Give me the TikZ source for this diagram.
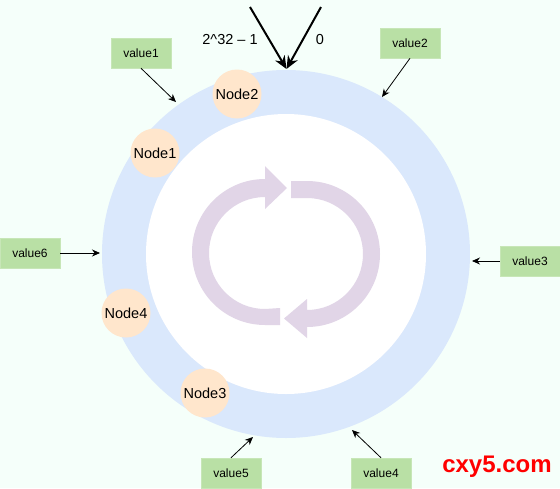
\documentclass[tikz,border=0pt]{standalone}
\usepackage{fontspec}
\setmainfont{Liberation Sans}
\usetikzlibrary{arrows.meta}
\definecolor{bg}{RGB}{245,255,250}
\definecolor{ringc}{HTML}{DAE8FC}
\definecolor{nodec}{HTML}{FFE6CC}
\definecolor{valc}{HTML}{B9E0A5}
\definecolor{cyc}{HTML}{E1D5E7}
\definecolor{wm}{RGB}{255,0,0}
\begin{document}
\begin{tikzpicture}[x=1pt,y=-1pt,
  hashnode/.style={circle,fill=nodec,minimum size=49pt,inner sep=0pt,font=\fontsize{14.5}{17}\selectfont},
  valbox/.style={rectangle,fill=valc,draw=valc!80!white,line width=0.5pt,minimum width=60pt,minimum height=30pt,inner sep=0pt,font=\fontsize{12}{14}\selectfont},
  thinarr/.style={-{Stealth[length=8pt,width=7pt]},line width=0.8pt},
  bigarr/.style={-{Stealth[length=13pt,width=11pt]},line width=2pt},
  lbl/.style={inner sep=0pt,font=\fontsize{14.5}{17}\selectfont}]
\fill[bg] (0,0) rectangle (560,488);
\useasboundingbox (0,0) rectangle (560,488);
% ring
\fill[ringc] (286,254) circle[radius=184pt];
\fill[white] (286,254) circle[radius=140pt];
% cycle arrows
\fill[cyc] (280,325) -- (265,325) arc[start angle=270,end angle=90,radius=73pt]
  -- (265,166) -- (287,188) -- (265,209) -- (265,197)
  arc[start angle=90,end angle=270,radius=56pt] -- (280,308) -- cycle;
\fill[cyc] (291,181) -- (307,181) arc[start angle=90,end angle=-90,radius=73pt]
  -- (307,338) -- (284,318.5) -- (307,299) -- (307,310)
  arc[start angle=-90,end angle=90,radius=56pt] -- (291,198) -- cycle;
% hash nodes
\node[hashnode] (n2) at (237,94) {Node2};
\node[hashnode] (n1) at (155,153) {Node1};
\node[hashnode] (n4) at (126,313) {Node4};
\node[hashnode] (n3) at (205,393) {Node3};
% value boxes
\node[valbox] (v1) at (141,53) {value1};
\node[valbox] (v2) at (410,43) {value2};
\node[valbox] (v3) at (530,261) {value3};
\node[valbox] (v4) at (381,473) {value4};
\node[valbox] (v5) at (231,473) {value5};
\node[valbox] (v6) at (30,253) {value6};
% ring target points
\coordinate (t1) at (176,102);
\coordinate (t2) at (382,97);
\coordinate (t3) at (472,261);
\coordinate (t4) at (352,430);
\coordinate (t5) at (253,437);
\coordinate (t6) at (100,253);
\draw[thinarr] (v1.south) -- (t1);
\draw[thinarr] (v2.south) -- (t2);
\draw[thinarr] (v3.west) -- (t3);
\draw[thinarr] (v4.north) -- (t4);
\draw[thinarr] (v5.north) -- (t5);
\draw[thinarr] (v6.east) -- (t6);
% top arrows
\coordinate (s1) at (250,7);
\coordinate (s2) at (321,7);
\coordinate (top) at (286.5,69);
\draw[bigarr] (s1) -- (top);
\draw[bigarr] (s2) -- (top);
\node[lbl] (l1) at (230,40) {2\^{}32 – 1};
\node[lbl] (l2) at (320,40) {0};
% watermark
\node[inner sep=0pt,text=wm,font=\fontsize{24}{28}\selectfont\bfseries] (wmk) at (497,467) {cxy5.com};
\end{tikzpicture}
\end{document}
